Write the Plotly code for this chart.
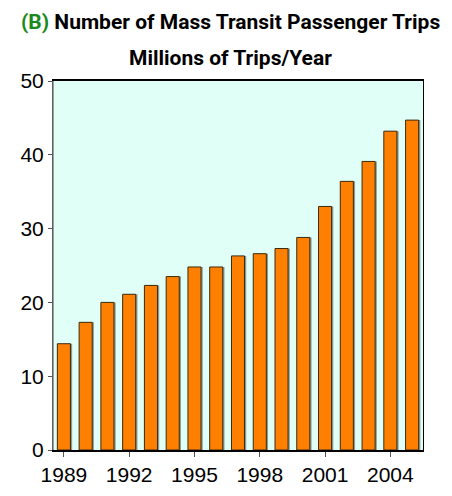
import plotly.graph_objects as go

# --- данные ---
years = list(range(1989, 2006))
trips = [14.4, 17.3, 20.0, 21.1, 22.3, 23.5, 24.8, 24.8, 26.3, 26.6,
         27.3, 28.8, 33.0, 36.4, 39.1, 43.2, 44.7]
tick_years = [1989, 1992, 1995, 1998, 2001, 2004]
y_ticks = [0, 10, 20, 30, 40, 50]

AX_FONT = dict(family="Liberation Sans Narrow, Arial Narrow, Liberation Sans, Arial", size=21, color="black")
TITLE_FONT = dict(family="Roboto, Arial", size=21, color="black", weight="bold")

fig = go.Figure()
# тень столбиков (серый сдвиг вправо)
fig.add_trace(go.Bar(
    x=years, y=trips, width=0.6, offset=-0.22,
    marker=dict(color="#8c9a96", line=dict(width=0)), hoverinfo="skip",
))
fig.add_trace(go.Bar(
    x=years, y=trips, width=0.6, offset=-0.3,
    marker=dict(color="#FF8000", line=dict(color="#3a2a10", width=1)),
))

# страница имеет отступ 8px, поэтому фигура чуть меньше окна
fig.update_layout(
    width=444, height=488,
    margin=dict(l=45, r=29, t=73, b=46, autoexpand=False),
    paper_bgcolor="white", plot_bgcolor="#E0FFF6",
    showlegend=False, barmode="overlay",
)

# Заголовок в две строки
fig.add_annotation(
    text="<span style='color:#1a8a1a'>(B)</span> Number of Mass Transit Passenger Trips",
    xref="paper", yref="paper", x=0.481, y=1, yshift=59, xanchor="center", yanchor="middle",
    showarrow=False, font=TITLE_FONT,
)
fig.add_annotation(
    text="Millions of Trips/Year",
    xref="paper", yref="paper", x=0.481, y=1, yshift=23, xanchor="center", yanchor="middle",
    showarrow=False, font=TITLE_FONT,
)

fig.update_xaxes(
    range=[1988.5, 2005.5], tickvals=tick_years, ticktext=[str(t) for t in tick_years],
    ticks="outside", ticklen=5, tickcolor="#555", showgrid=False,
    showline=True, linecolor="black", linewidth=1.5, mirror=True,
    tickfont=AX_FONT, zeroline=False, automargin=False,
)
fig.update_yaxes(
    range=[0, 50], tickvals=y_ticks, ticks="outside", ticklen=4, tickcolor="#555",
    showgrid=False, showline=True, linecolor="black", linewidth=1, mirror=True,
    tickfont=AX_FONT, zeroline=False, automargin=False,
)
# левая граница серая, как в оригинале
fig.add_shape(type="line", xref="paper", yref="paper", x0=0, x1=0, y0=0, y1=1,
              line=dict(color="#808080", width=1.5))

fig.write_html("out.html")
